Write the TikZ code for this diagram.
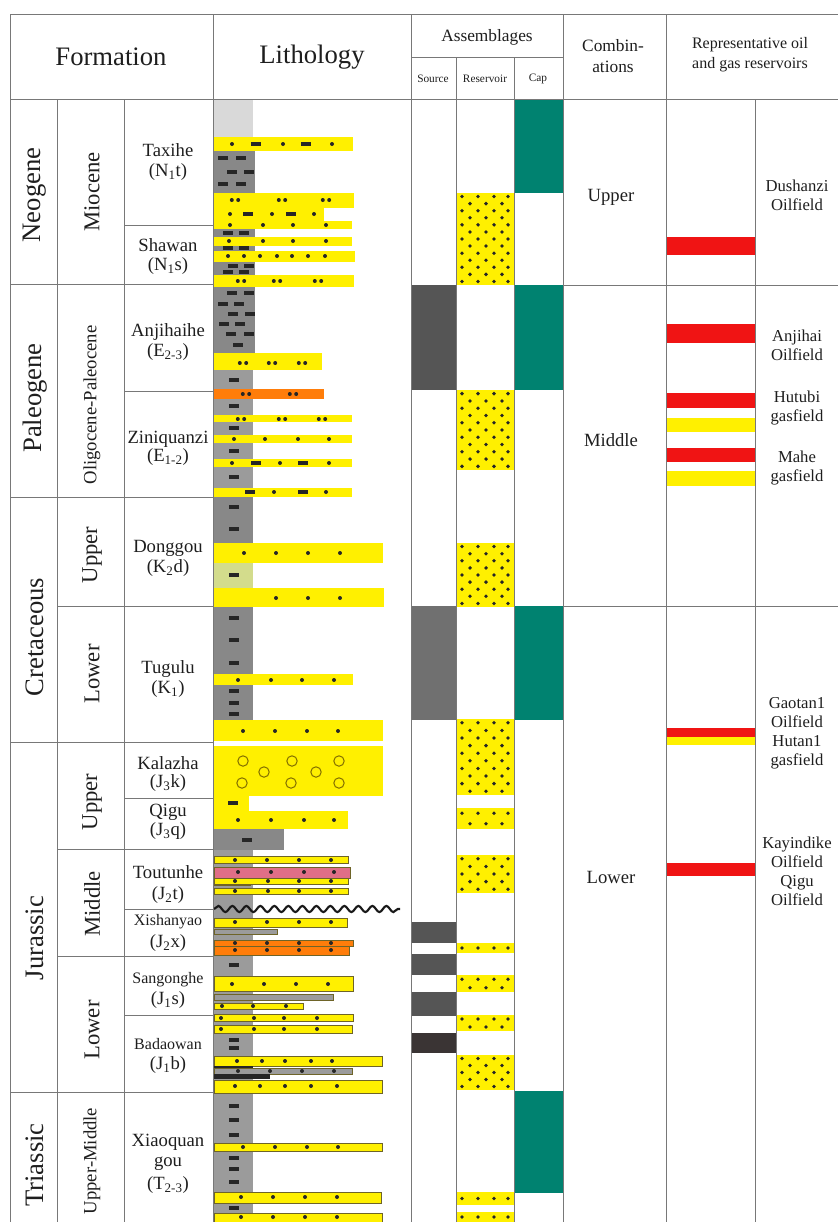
\documentclass[tikz,border=0pt]{standalone}
\usepackage{fontspec}
\setmainfont{Liberation Serif}
\usetikzlibrary{decorations.pathmorphing}

\definecolor{sandyellow}{RGB}{255,240,0}
\definecolor{mudgray}{RGB}{136,136,136}
\definecolor{mudlight}{RGB}{155,155,155}
\definecolor{palegray}{RGB}{217,217,217}
\definecolor{marlgreen}{RGB}{211,220,140}
\definecolor{redbed}{RGB}{255,125,10}
\definecolor{pinkbed}{RGB}{224,110,135}
\definecolor{capgreen}{RGB}{0,130,112}
\definecolor{oilred}{RGB}{240,20,20}
\definecolor{gridgray}{RGB}{120,120,120}
\definecolor{textgray}{RGB}{30,30,30}
\definecolor{srcdark}{RGB}{85,85,85}
\definecolor{srcmid}{RGB}{112,112,112}
\definecolor{srcblack}{RGB}{58,52,52}
\definecolor{bedline}{RGB}{110,100,40}

\tikzset{every picture/.style={line width=0.75pt}}

% reservoir column: yellow band with staggered dots (top, bottom, rows)
\newcommand{\resband}[3]{%
  \fill[sand] (456,#1) rectangle (514,#2);
  \foreach \r in {1,...,#3}{%
    \pgfmathsetmacro{\ry}{#1+(#2-#1)*(\r-0.5)/#3}%
    \ifodd\r\relax
      \foreach \rx in {462,478,494,508}{\fill[dot] (\rx,\ry) circle (1.9);}%
    \else
      \foreach \rx in {470,486,502}{\fill[dot] (\rx,\ry) circle (1.9);}%
    \fi}}

\begin{document}
\begin{tikzpicture}[x=0.75pt,y=0.75pt,yscale=-1,xscale=1,
  grid/.style={draw=gridgray,line width=0.6pt},
  sand/.style={fill=sandyellow},
  bed/.style={draw=bedline,line width=0.4pt},
  dot/.style={fill=black!85},
  mudmark/.style={draw=black!85,line width=2.4pt},
  headtext/.style={text=textgray,font=\fontsize{20}{24}\selectfont},
  subhead/.style={text=textgray,font=\fontsize{13}{16}\selectfont,align=center},
  tinyhead/.style={text=textgray,font=\fontsize{8.5}{10}\selectfont},
  eratext/.style={text=textgray,rotate=90,font=\fontsize{20}{24}\selectfont},
  epochtext/.style={text=textgray,rotate=90,font=\fontsize{17}{20}\selectfont},
  fmtext/.style={text=textgray,font=\fontsize{14}{16}\selectfont},
  fmsmall/.style={text=textgray,font=\fontsize{12}{14}\selectfont},
  combtext/.style={text=textgray,font=\fontsize{14}{16}\selectfont},
  fieldtext/.style={text=textgray,align=center,font=\fontsize{12.5}{14.3}\selectfont}]
\useasboundingbox (0,0) rectangle (838,1222);

%Lithology: base column
\fill[palegray] (214,99) rectangle (253,137);
\fill[mudgray] (214,137) rectangle (255,370);
\fill[mudlight] (214,370) rectangle (253,497);
\fill[mudgray] (214,497) rectangle (253,741);
\fill[mudlight] (214,829) rectangle (253,1222);

%Lithology: sandstone beds (top/bottom/right edge)
\foreach \ya/\yb/\xr in {137/151/353,193/208/354,208/221/324,221/229/352,237/246/352,
    251/262/355,275/287/354,353/370/322,415/422/352,435/443/352,459/467/352,488/497/352,
    543/563/383,588/607/384,674/685/353,720/741/383,746/796/383,796/811/249,811/829/348}
  \fill[sand] (214,\ya) rectangle (\xr,\yb);
\foreach \ya/\yb/\xr in {856/863/348,878/884/348,888/894/348,918/927/347,976/991/353,
    1003/1009/303,1014/1021/353,1025/1033/352,1056/1066/382,1080/1093/382,
    1143/1151/382,1192/1203/381,1213/1222/382}
  \draw[sand,bed] (214,\ya) rectangle (\xr,\yb);

%Lithology: other beds
\fill[redbed] (214,389) rectangle (324,399);
\fill[marlgreen] (214,563) rectangle (253,588);
\fill[mudgray] (214,829) rectangle (284,850);
\draw[fill=pinkbed,bed] (214,867) rectangle (350,878);
\fill[bedline] (214,884) rectangle (251,886);
\draw[fill=mudlight,bed] (214,929) rectangle (277,934);
\draw[fill=redbed,bed] (214,940) rectangle (353,946);
\draw[fill=redbed,bed] (214,946) rectangle (349,955);
\draw[fill=mudlight,bed] (214,994) rectangle (333,1000);
\fill[black!85] (214,1066) rectangle (253,1069);
\draw[fill=mudlight,bed] (214,1068) rectangle (352,1074);
\fill[black!85] (214,1074) rectangle (270,1079);

%Lithology: single dots
\foreach \x/\y in {232/144,283/144,332/144,230/214,272/214,314/214,
    230/225,263/225,293/225,326/225,229/241,263/241,293/241,326/241,
    228/256,244/256,260/256,277/256,292/256,308/256,325/256,
    234/439,265/439,298/439,329/439,232/463,280/463,329/463,274/492,326/492,
    244/553,276/553,308/553,340/553,276/598,308/598,340/598,
    238/680,271/680,302/680,334/680,243/731,275/731,307/731,338/731,
    238/820,271/820,304/820,334/820,235/860,267/860,299/860,331/860,
    238/872,271/872,304/872,334/872,235/881,268/881,299/881,331/881,
    235/891,268/891,299/891,331/891,235/922,267/922,299/922,331/922,
    235/943,267/943,299/943,331/943,235/950,267/950,299/950,331/950,
    232/984,264/984,296/984,328/984,222/1006,253/1006,286/1006,
    221/1018,254/1018,284/1018,317/1018,221/1029,254/1029,284/1029,317/1029,
    237/1061,262/1061,285/1061,311/1061,332/1061,238/1071,270/1071,302/1071,334/1071,
    235/1086,260/1086,285/1086,311/1086,337/1086,243/1147,275/1147,307/1147,338/1147,
    241/1197,273/1197,305/1197,337/1197,241/1217,273/1217,305/1217,337/1217}
  \fill[dot] (\x,\y) circle (2);

%Lithology: paired dots
\foreach \x/\y in {235/200,282/200,326/200,241/281,277/281,318/281,
    243/363,272/363,302/363,246/394,293/394,241/419,282/419,322/419}
  {\fill[dot] (\x-3.2,\y) circle (2); \fill[dot] (\x+3.2,\y) circle (2);}

%Lithology: silt and mud marks
\foreach \x/\y in {256/144,306/144,248/214,291/214,256/463,303/463,250/492,303/492,
    223/158,241/158,232/172,249/172,223/184,241/184,228/233,244/233,228/248,244/248,
    233/266,249/266,228/272,244/272,232/293,249/293,223/304,239/304,233/314,250/314,
    224/324,240/324,231/334,249/334,238/345,234/380,234/406,234/428,234/451,234/477,
    234/507,234/529,234/575,234/618,234/640,234/663,234/691,234/703,234/714,
    233/803,247/840,234/965,234/1040,234/1048,234/1106,234/1120,234/1135,
    234/1158,234/1169,234/1182,234/1208}
  \draw[mudmark] (\x-5,\y) -- (\x+5,\y);

%Lithology: conglomerate
\foreach \x/\y in {243/761,292/761,339/761,264/772,316/772,242/783,291/783,339/783}
  \draw[draw={rgb,255:red,130;green,110;blue,0}] (\x,\y) circle (5.2);

%Unconformity
\draw[decorate,decoration={snake,amplitude=2.3pt,segment length=10.5pt},line width=1.6pt,black!90] (214,909) -- (400,909);

%Assemblages: source
\fill[srcdark] (411,285) rectangle (456,390);
\fill[srcmid] (411,606) rectangle (456,720);
\fill[srcdark] (411,922) rectangle (456,943);
\fill[srcdark] (411,954) rectangle (456,975);
\fill[srcdark] (411,992) rectangle (456,1016);
\fill[srcblack] (411,1033) rectangle (456,1053);

%Assemblages: reservoir
\resband{193}{285}{13}
\resband{390}{470}{11}
\resband{543}{607}{9}
\resband{719}{795}{10}
\resband{808}{829}{2}
\resband{855}{893}{5}
\resband{943}{953}{1}
\resband{975}{992}{2}
\resband{1015}{1031}{2}
\resband{1055}{1090}{5}
\resband{1192}{1205}{1}
\resband{1212}{1222}{1}

%Assemblages: cap
\fill[capgreen] (514,99) rectangle (563,193);
\fill[capgreen] (514,285) rectangle (563,390);
\fill[capgreen] (514,606) rectangle (563,720);
\fill[capgreen] (514,1091) rectangle (563,1193);

%Representative reservoirs
\fill[oilred] (666,237) rectangle (755,255);
\fill[oilred] (666,324) rectangle (755,343);
\fill[oilred] (666,393) rectangle (755,408);
\fill[sandyellow] (666,418) rectangle (755,432);
\fill[oilred] (666,448) rectangle (755,462);
\fill[sandyellow] (666,471) rectangle (755,486);
\fill[oilred] (666,728) rectangle (755,737);
\fill[sandyellow] (666,737) rectangle (755,745);
\fill[oilred] (666,863) rectangle (755,876);

%Table lines
\draw[grid] (10,14) -- (838,14);
\draw[grid] (411,57) -- (563,57);
\draw[grid] (10,99) -- (838,99);
\foreach \xx in {10,213,411,563,666} \draw[grid] (\xx,14) -- (\xx,1222);
\foreach \xx in {456,514} \draw[grid] (\xx,57) -- (\xx,1222);
\foreach \xx in {57,124,755} \draw[grid] (\xx,99) -- (\xx,1222);
\foreach \yy in {284,497,742,1092} \draw[grid] (10,\yy) -- (213,\yy);
\foreach \yy in {606,849,956} \draw[grid] (57,\yy) -- (213,\yy);
\foreach \yy in {225,391,798,909,1015} \draw[grid] (124,\yy) -- (213,\yy);
\foreach \yy in {285,606} \draw[grid] (563,\yy) -- (838,\yy);

% Text Node
\node[headtext] (hFormation) at (111,57) {Formation};
\node[headtext] (hLithology) at (312,57) {Lithology};
\node[subhead] (hAssemb) at (487,37) {Assemblages};
\node[tinyhead] (hSource) at (433,79) {Source};
\node[tinyhead] (hReservoir) at (485,79) {Reservoir};
\node[tinyhead] (hCap) at (538,79) {Cap};
\node[subhead] (hComb) at (613,56) {Combin-\\ations};
\node[subhead,font=\fontsize{12}{15}\selectfont] (hRep) at (750,55) {Representative oil\\and gas reservoirs};

% Text Node
\node[eratext] (eNeogene) at (35,195) {Neogene};
\node[eratext] (ePaleogene) at (35,398) {Paleogene};
\node[eratext] (eCretaceous) at (35,637) {Cretaceous};
\node[eratext] (eJurassic) at (35,938) {Jurassic};
\node[eratext] (eTriassic) at (35,1165) {Triassic};

% Text Node
\node[epochtext] (pMiocene) at (92,192) {Miocene};
\node[epochtext,font=\fontsize{14}{16}\selectfont] (pOligo) at (92,405) {Oligocene-Paleocene};
\node[epochtext] (pUpperK) at (92,555) {Upper};
\node[epochtext] (pLowerK) at (92,674) {Lower};
\node[epochtext] (pUpperJ) at (92,802) {Upper};
\node[epochtext] (pMiddleJ) at (92,904) {Middle};
\node[epochtext] (pLowerJ) at (92,1030) {Lower};
\node[epochtext,font=\fontsize{14}{16}\selectfont] (pUpMidT) at (92,1161) {Upper-Middle};

% Text Node
\node[fmtext] (fTaxihe) at (168,150) {Taxihe};
\node[fmtext] (fTaxiheC) at (168,172) {(N\textsubscript{1}t)};
\node[fmtext] (fShawan) at (168,245) {Shawan};
\node[fmtext] (fShawanC) at (168,266) {(N\textsubscript{1}s)};
\node[fmtext] (fAnjihaihe) at (168,332) {Anjihaihe};
\node[fmtext] (fAnjihaiheC) at (168,352) {(E\textsubscript{2-3})};
\node[fmtext] (fZiniquanzi) at (168,439) {Ziniquanzi};
\node[fmtext] (fZiniquanziC) at (168,457) {(E\textsubscript{1-2})};
\node[fmtext] (fDonggou) at (168,548) {Donggou};
\node[fmtext] (fDonggouC) at (168,568) {(K\textsubscript{2}d)};
\node[fmtext] (fTugulu) at (168,669) {Tugulu};
\node[fmtext] (fTuguluC) at (168,689) {(K\textsubscript{1})};
\node[fmtext] (fKalazha) at (168,763) {Kalazha};
\node[fmtext] (fKalazhaC) at (168,783) {(J\textsubscript{3}k)};
\node[fmtext] (fQigu) at (168,812) {Qigu};
\node[fmtext] (fQiguC) at (168,831) {(J\textsubscript{3}q)};
\node[fmtext] (fToutunhe) at (168,872) {Toutunhe};
\node[fmtext] (fToutunheC) at (168,895) {(J\textsubscript{2}t)};
\node[fmsmall] (fXishanyao) at (168,922) {Xishanyao};
\node[fmtext] (fXishanyaoC) at (168,943) {(J\textsubscript{2}x)};
\node[fmsmall] (fSangonghe) at (168,980) {Sangonghe};
\node[fmtext] (fSangongheC) at (168,1000) {(J\textsubscript{1}s)};
\node[fmsmall] (fBadaowan) at (168,1044) {Badaowan};
\node[fmtext] (fBadaowanC) at (168,1065) {(J\textsubscript{1}b)};
\node[fmtext] (fXiaoquan) at (168,1142) {Xiaoquan};
\node[fmtext] (fXiaoquanB) at (168,1164) {gou};
\node[fmtext] (fXiaoquanC) at (168,1185) {(T\textsubscript{2-3})};

% Text Node
\node[combtext] (cUpper) at (611,197) {Upper};
\node[combtext] (cMiddle) at (611,440) {Middle};
\node[combtext] (cLower) at (611,877) {Lower};

% Text Node
\node[fieldtext] (rDushanzi) at (797,195) {Dushanzi\\Oilfield};
\node[fieldtext] (rAnjihai) at (797,345) {Anjihai\\Oilfield};
\node[fieldtext] (rHutubi) at (797,408) {Hutubi\\gasfield};
\node[fieldtext] (rMahe) at (797,468) {Mahe\\gasfield};
\node[fieldtext] (rGaotan) at (797,733) {Gaotan1\\Oilfield\\Hutan1\\gasfield};
\node[fieldtext] (rKayindike) at (797,871) {Kayindike\\Oilfield\\Qigu\\Oilfield};

\end{tikzpicture}
\end{document}
